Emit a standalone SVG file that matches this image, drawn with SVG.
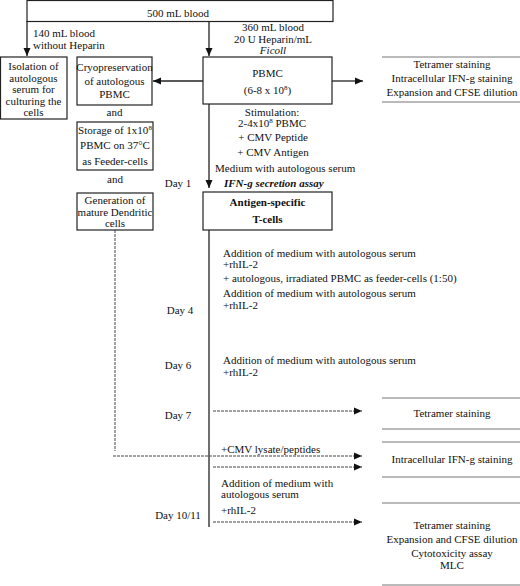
<svg xmlns="http://www.w3.org/2000/svg" width="520" height="586" viewBox="0 0 520 586">
<style>
text{font-family:"Liberation Serif","Times New Roman",serif;font-size:11px;fill:#111}
.c{text-anchor:middle}
.b{font-weight:bold}
.i{font-style:italic}
.box{fill:#fff;stroke:#222;stroke-width:1.2}
.ln{stroke:#222;stroke-width:1.3;fill:none}
.ds{stroke:#444;stroke-width:1;stroke-dasharray:3,1;fill:none}
.sep{stroke:#666;stroke-width:0.9;fill:none}
.sup{font-size:7px}
</style>
<defs>
<marker id="ah" markerUnits="userSpaceOnUse" markerWidth="9" markerHeight="8" refX="8" refY="4" orient="auto">
<path d="M0,0.5 L8,4 L0,7.5 Z" fill="#111"/>
</marker>
</defs>

<g id="blood500">
<rect class="box" x="27" y="0.5" width="306" height="21"/>
<text class="c" x="178" y="17">500 mL blood</text>
</g>

<g id="isolation">
<rect class="box" x="0.5" y="57" width="66.5" height="62"/>
<text class="c" x="33.5" y="70">Isolation of</text>
<text class="c" x="33.5" y="81.5">autologous</text>
<text class="c" x="33.5" y="93">serum for</text>
<text class="c" x="33.5" y="104.5">culturing the</text>
<text class="c" x="33.5" y="116">cells</text>
</g>

<g id="cryo">
<rect class="box" x="77" y="57" width="75" height="48"/>
<text class="c" x="114.5" y="71">Cryopreservation</text>
<text class="c" x="114.5" y="85">of autologous</text>
<text class="c" x="114.5" y="98">PBMC</text>
</g>
<text class="c" x="114.5" y="116">and</text>

<g id="storage">
<rect class="box" x="77" y="122" width="76" height="48"/>
<text class="c" x="115" y="134">Storage of 1x10<tspan class="sup" dy="-4">8</tspan></text>
<text class="c" x="115" y="149">PBMC on 37°C</text>
<text class="c" x="115" y="164.5">as Feeder-cells</text>
</g>
<text class="c" x="115" y="183">and</text>

<g id="dendritic">
<rect class="box" x="77" y="193" width="76" height="37"/>
<text class="c" x="115" y="204">Generation of</text>
<text class="c" x="115" y="215.5">mature Dendritic</text>
<text class="c" x="115" y="227">cells</text>
</g>

<g id="pbmc">
<rect class="box" x="203" y="57" width="129" height="47"/>
<text class="c" x="267.5" y="77">PBMC</text>
<text class="c" x="267.5" y="94">(6-8 x 10<tspan class="sup" dy="-4">8</tspan><tspan dy="4">)</tspan></text>
</g>

<g id="antigen">
<rect class="box" x="203" y="192" width="129" height="38"/>
<text class="c b" x="267.5" y="206">Antigen-specific</text>
<text class="c b" x="267.5" y="223">T-cells</text>
</g>

<g id="connectors">
<line class="ln" x1="27" y1="21" x2="27" y2="56" marker-end="url(#ah)"/>
<line class="ln" x1="209" y1="21" x2="209" y2="56" marker-end="url(#ah)"/>
<line class="ln" x1="203" y1="81" x2="153" y2="81" marker-end="url(#ah)"/>
<line class="ln" x1="332" y1="81" x2="363" y2="81" marker-end="url(#ah)"/>
<line class="ln" x1="209" y1="104" x2="209" y2="188" marker-end="url(#ah)"/>
<line class="ln" x1="209" y1="230" x2="209" y2="527"/>
<line class="ds" x1="115" y1="230" x2="115" y2="451"/>
<line class="ds" x1="113" y1="456" x2="362" y2="456" marker-end="url(#ah)"/>
<line class="ds" x1="213" y1="411" x2="362" y2="411" marker-end="url(#ah)"/>
<line class="ds" x1="213" y1="467" x2="362" y2="467" marker-end="url(#ah)"/>
<line class="ds" x1="213" y1="522" x2="362" y2="522" marker-end="url(#ah)"/>
</g>

<g id="labels">
<text x="33" y="37">140 mL blood</text>
<text x="33" y="49">without Heparin</text>
<text class="c" x="273" y="31">360 mL blood</text>
<text class="c" x="273" y="43">20 U Heparin/mL</text>
<text class="c i" x="273" y="54">Ficoll</text>
<text class="c" x="272" y="116">Stimulation:</text>
<text class="c" x="272" y="127">2-4x10<tspan class="sup" dy="-4">8</tspan><tspan dy="4"> PBMC</tspan></text>
<text class="c" x="273" y="141">+ CMV Peptide</text>
<text class="c" x="273" y="156">+ CMV Antigen</text>
<text x="215" y="172">Medium with autologous serum</text>
<text class="b i" x="224" y="187">IFN-g secretion assay</text>

<text class="c" x="178" y="187">Day 1</text>
<text class="c" x="180" y="314">Day 4</text>
<text class="c" x="178" y="369">Day 6</text>
<text class="c" x="178" y="419">Day 7</text>
<text class="c" x="178" y="519">Day 10/11</text>

<text x="223" y="257">Addition of medium with autologous serum</text>
<text x="223" y="268">+rhIL-2</text>
<text x="223" y="282">+ autologous, irradiated PBMC as feeder-cells (1:50)</text>
<text x="223" y="297">Addition of medium with autologous serum</text>
<text x="223" y="309">+rhIL-2</text>
<text x="223" y="364">Addition of medium with autologous serum</text>
<text x="223" y="376">+rhIL-2</text>
<text x="221" y="453">+CMV lysate/peptides</text>
<text x="221" y="487">Addition of medium with</text>
<text x="221" y="498">autologous serum</text>
<text x="221" y="514">+rhIL-2</text>
</g>

<g id="readouts">
<line class="sep" x1="382" y1="57" x2="520" y2="57"/>
<line class="sep" x1="382" y1="102" x2="520" y2="102"/>
<text class="c" x="452" y="68">Tetramer staining</text>
<text class="c" x="452" y="82">Intracellular IFN-g staining</text>
<text class="c" x="452" y="96">Expansion and CFSE dilution</text>

<line class="sep" x1="382" y1="398" x2="520" y2="398"/>
<line class="sep" x1="382" y1="429" x2="520" y2="429"/>
<text class="c" x="452" y="417">Tetramer staining</text>

<line class="sep" x1="382" y1="442" x2="520" y2="442"/>
<line class="sep" x1="382" y1="477" x2="520" y2="477"/>
<text class="c" x="452" y="463">Intracellular IFN-g staining</text>

<line class="sep" x1="382" y1="503" x2="520" y2="503"/>
<line class="sep" x1="382" y1="585" x2="520" y2="585"/>
<text class="c" x="452" y="529">Tetramer staining</text>
<text class="c" x="452" y="543">Expansion and CFSE dilution</text>
<text class="c" x="452" y="557">Cytotoxicity assay</text>
<text class="c" x="452" y="569">MLC</text>
</g>
</svg>
